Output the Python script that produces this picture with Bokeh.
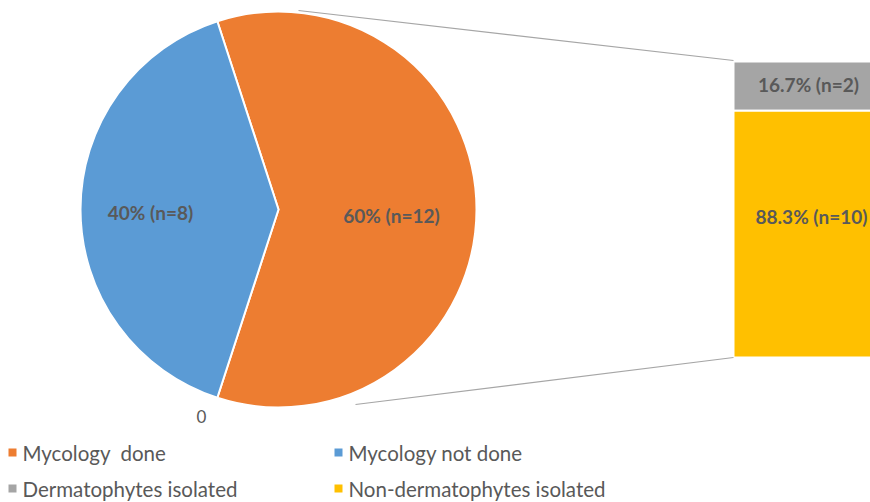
import math
from bokeh.plotting import figure
from bokeh.models import Range1d
from bokeh.core.properties import value
from bokeh.embed import file_html
from bokeh.resources import INLINE

# Data
pie_labels = ["Mycology\u00a0 done", "Mycology not done"]
pie_counts = [12, 8]
pie_texts = ["60% (n=12)", "40% (n=8)"]
pie_colors = ["#ED7D31", "#5B9BD5"]

bar_labels = ["Dermatophytes isolated", "Non-dermatophytes isolated"]
bar_counts = [2, 10]
bar_texts = ["16.7% (n=2)", "88.3% (n=10)"]
bar_colors = ["#A5A5A5", "#FFC000"]

W, H = 870, 502
TXT = "#595959"
FONT = "Lato"

p = figure(width=W, height=H, x_range=Range1d(0, W), y_range=Range1d(0, H),
           output_backend="svg", toolbar_location=None, min_border=0)
p.axis.visible = False
p.grid.visible = False
p.outline_line_color = None
p.background_fill_color = "white"

def Y(v):
    return H - v

# Pie: "done" slice centred on the right-hand side
cx, cy, r = 278, Y(209), 198
total = sum(pie_counts)
a_done = pie_counts[0] / total * 2 * math.pi
starts = [-a_done / 2, a_done / 2]
ends = [a_done / 2, 2 * math.pi - a_done / 2]
p.wedge(x=[cx, cx], y=[cy, cy], radius=r, start_angle=starts, end_angle=ends,
        fill_color=pie_colors, line_color="white", line_width=2)

p.text(x=[391, 150], y=[Y(215), Y(212)], text=pie_texts, text_align="center",
       text_baseline="middle", text_color=TXT, text_font=value(FONT),
       text_font_size="19px", text_font_style="bold")

p.text(x=[201], y=[Y(416)], text=["0"], text_align="center", text_baseline="middle",
       text_color=TXT, text_font=value(FONT), text_font_size="17px")

# Stacked bar of the "done" breakdown
bx0, bx1 = 733, 872
btop, bbot = Y(61), Y(357)
scale = (btop - bbot) / sum(bar_counts)
tops = [btop, btop - bar_counts[0] * scale]
bots = [btop - bar_counts[0] * scale, bbot]
p.quad(left=bx0, right=bx1, top=tops, bottom=bots, fill_color=bar_colors,
       line_color="white", line_width=2)

p.text(x=[808, 811], y=[Y(84), Y(216)], text=bar_texts, text_align="center",
       text_baseline="middle", text_color=TXT, text_font=value(FONT),
       text_font_size="19px", text_font_style="bold")

# Connector lines
p.segment(x0=[298, 355], y0=[Y(10), Y(404)], x1=[bx0, bx0], y1=[btop + 1, bbot],
          line_color="#A6A6A6", line_width=1.2)

# Legend
leg_labels = [pie_labels[0], pie_labels[1], bar_labels[0], bar_labels[1]]
leg_colors = [pie_colors[0], pie_colors[1], bar_colors[0], bar_colors[1]]
leg_x = [12, 338, 12, 338]
leg_y = [Y(452), Y(452), Y(488), Y(488)]
p.scatter(x=leg_x, y=leg_y, marker="square", size=8, fill_color=leg_colors,
          line_color=None)
p.text(x=[x + 10 for x in leg_x], y=leg_y, text=leg_labels, text_baseline="middle",
       text_color=TXT, text_font=value(FONT), text_font_size="20.5px")

open("out.html", "w").write(file_html(p, INLINE))
